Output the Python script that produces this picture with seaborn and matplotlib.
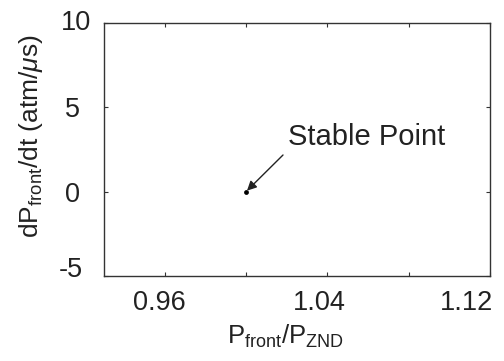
import matplotlib
matplotlib.use("Agg")
import matplotlib.pyplot as plt
import matplotlib.transforms as mtransforms
import seaborn as sns
import pandas as pd

# data
p_ratio = [1.00]
dpdt = [0.0]
x_ticks = [0.96, 1.00, 1.04, 1.08, 1.12]
x_ticklabels = ["0.96", "", "1.04", "", "1.12"]
y_ticks = [-5, 0, 5, 10]
annotation = "Stable Point"

sns.set_theme(style="ticks")
plt.rcParams["font.family"] = ["Liberation Sans", "DejaVu Sans"]
plt.rcParams["mathtext.fontset"] = "custom"
plt.rcParams["mathtext.rm"] = "Liberation Sans"
plt.rcParams["mathtext.it"] = "Liberation Sans:italic"
plt.rcParams["mathtext.bf"] = "Liberation Sans:bold"

W, H = 504, 361
fig = plt.figure(figsize=(W / 100, H / 100), dpi=100)
ax = fig.add_axes([103.7 / W, 1 - 276 / H, (490 - 103.7) / W, (276 - 23) / H])

df = pd.DataFrame({"x": p_ratio, "y": dpdt})
sns.scatterplot(data=df, x="x", y="y", ax=ax, color="black", s=12,
                edgecolor="black", linewidth=0, zorder=3)

txtc = "#222222"
ax.set_xlim(0.93, 1.12)
ax.set_ylim(-5, 10)
ax.set_xticks(x_ticks)
ax.set_xticklabels(x_ticklabels)
ax.set_yticks(y_ticks)
ax.set_yticklabels([str(v) for v in y_ticks])
ax.tick_params(direction="in", length=3, width=0.8, top=True, right=True,
               labelsize=19.5, colors="#333333", labelcolor=txtc)
ax.tick_params(axis="x", pad=10)
ax.tick_params(axis="y", pad=22)
for s in ax.spines.values():
    s.set_linewidth(1.0)
    s.set_color("#333333")

# small label nudges to follow the reference placement
dpi = fig.dpi
xoffs = {"0.96": (-5, 0, "center"), "1.04": (-8, 0, "center"), "1.12": (3, 0, "right")}
for lab in ax.get_xticklabels():
    t = lab.get_text()
    if t in xoffs:
        dx, dy, ha = xoffs[t]
        lab.set_ha(ha)
        lab.set_transform(lab.get_transform() + mtransforms.ScaledTranslation(dx / dpi, dy / dpi, fig.dpi_scale_trans))
yoffs = {"10": (3, 3), "5": (-1, 0), "0": (-1, 0), "-5": (-2, 9)}
for lab in ax.get_yticklabels():
    t = lab.get_text()
    lab.set_ha("center")
    dx, dy = yoffs.get(t, (0, 0))
    lab.set_transform(lab.get_transform() + mtransforms.ScaledTranslation(dx / dpi, dy / dpi, fig.dpi_scale_trans))

ax.set_xlabel(r"$\mathregular{P_{front}/P_{ZND}}$", fontsize=18.5, color=txtc, labelpad=2)
ax.xaxis.set_label_coords((285 - 103.7) / (490 - 103.7), -(336 - 276) / (276 - 23))
ax.xaxis.label.set_va("center")
ax.set_ylabel(r"$\mathregular{dP_{front}/dt\ (atm/}\mu\mathregular{s)}$", fontsize=19, color=txtc)
ax.yaxis.set_label_coords(-(103.7 - 31) / (490 - 103.7), (276 - 136) / (276 - 23))
ax.yaxis.label.set_va("center")

# text and arrow
fig.text(288 / W, 1 - 137 / H, annotation, fontsize=21, color=txtc, ha="left", va="center")
ax.annotate("", xy=(p_ratio[0], dpdt[0]), xytext=(283 / W, 1 - 155 / H), textcoords="figure fraction",
            arrowprops=dict(arrowstyle="-|>", color=txtc, lw=1.0, shrinkA=0, shrinkB=1,
                            mutation_scale=14))

fig.savefig("out.png", dpi=100)
